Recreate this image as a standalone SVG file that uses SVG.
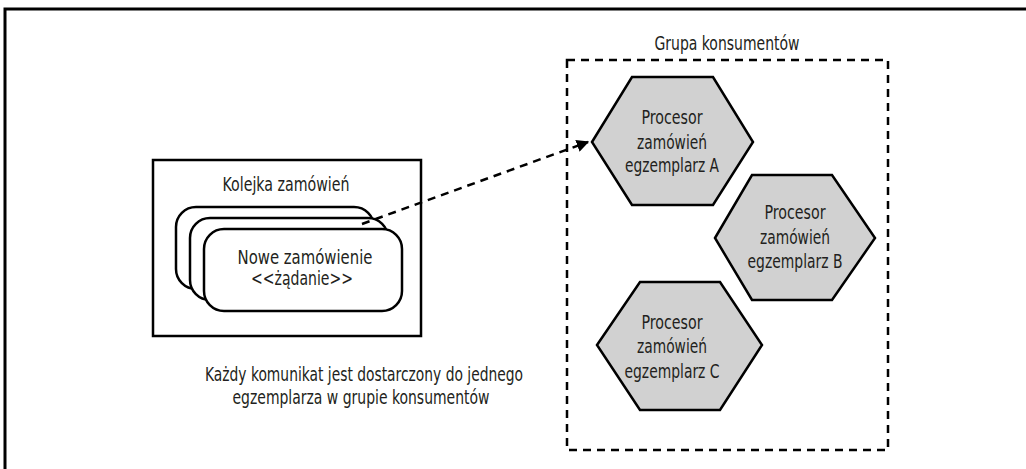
<svg xmlns="http://www.w3.org/2000/svg" width="1026" height="469" viewBox="0 0 1026 469">
<defs>
<style>
text{font-family:"Liberation Sans Narrow","DejaVu Sans Condensed","Liberation Sans",sans-serif;font-size:19px;fill:#231f20;text-anchor:middle;}
.hex{fill:#d1d1d1;stroke:#000;stroke-width:2.5;stroke-linejoin:miter;}
.card{fill:#fff;stroke:#000;stroke-width:2.5;}
.dash{fill:none;stroke:#000;stroke-width:2.5;stroke-dasharray:8 6;}
</style>
<marker id="arrow" viewBox="0 0 10 10" refX="9" refY="5" markerWidth="5" markerHeight="5" orient="auto" markerUnits="strokeWidth">
<path d="M0,0 L10,5 L0,10 z" fill="#000"/>
</marker>
</defs>
<rect width="1026" height="469" fill="#fff"/>
<path d="M5,469 V9 H1026" fill="none" stroke="#000" stroke-width="3"/>
<g id="grupa">
<rect x="567" y="60" width="321" height="390" class="dash"/>
<text x="727" y="50" textLength="145" lengthAdjust="spacingAndGlyphs">Grupa konsumentów</text>
</g>
<g id="kolejka">
<rect x="153" y="160" width="268" height="176" fill="#fff" stroke="#000" stroke-width="2.5"/>
<text x="286" y="191" textLength="127" lengthAdjust="spacingAndGlyphs">Kolejka zamówień</text>
</g>
<g id="nowe-zamowienie">
<rect x="176" y="207" width="198" height="82" rx="20" class="card"/>
<rect x="190" y="218" width="198" height="82" rx="20" class="card"/>
<rect x="204" y="229" width="198" height="82" rx="20" class="card"/>
<text x="305" y="264" textLength="135" lengthAdjust="spacingAndGlyphs">Nowe zamówienie</text>
<text x="302" y="285" textLength="102" lengthAdjust="spacingAndGlyphs">&lt;&lt;żądanie&gt;&gt;</text>
</g>
<g id="connectors">
<path d="M362,224 L588,142" class="dash" marker-end="url(#arrow)"/>
</g>
<g id="procesor-a">
<polygon points="592,142 632,77 713,77 753,142 713,205 632,205" class="hex"/>
<text x="672" y="124" textLength="61" lengthAdjust="spacingAndGlyphs">Procesor</text>
<text x="672" y="149" textLength="70" lengthAdjust="spacingAndGlyphs">zamówień</text>
<text x="672" y="172" textLength="94" lengthAdjust="spacingAndGlyphs">egzemplarz A</text>
</g>
<g id="procesor-b">
<polygon points="715,238 752,175 832,175 875,238 832,300 752,300" class="hex"/>
<text x="795" y="219" textLength="61" lengthAdjust="spacingAndGlyphs">Procesor</text>
<text x="795" y="244" textLength="70" lengthAdjust="spacingAndGlyphs">zamówień</text>
<text x="795" y="268" textLength="95" lengthAdjust="spacingAndGlyphs">egzemplarz B</text>
</g>
<g id="procesor-c">
<polygon points="597,345 640,282 720,282 762,345 720,410 640,410" class="hex"/>
<text x="672" y="329" textLength="61" lengthAdjust="spacingAndGlyphs">Procesor</text>
<text x="672" y="353" textLength="70" lengthAdjust="spacingAndGlyphs">zamówień</text>
<text x="672" y="378" textLength="95" lengthAdjust="spacingAndGlyphs">egzemplarz C</text>
</g>
<g id="opis">
<text x="364" y="381" textLength="318" lengthAdjust="spacingAndGlyphs">Każdy komunikat jest dostarczony do jednego</text>
<text x="361" y="404" textLength="257" lengthAdjust="spacingAndGlyphs">egzemplarza w grupie konsumentów</text>
</g>
</svg>
